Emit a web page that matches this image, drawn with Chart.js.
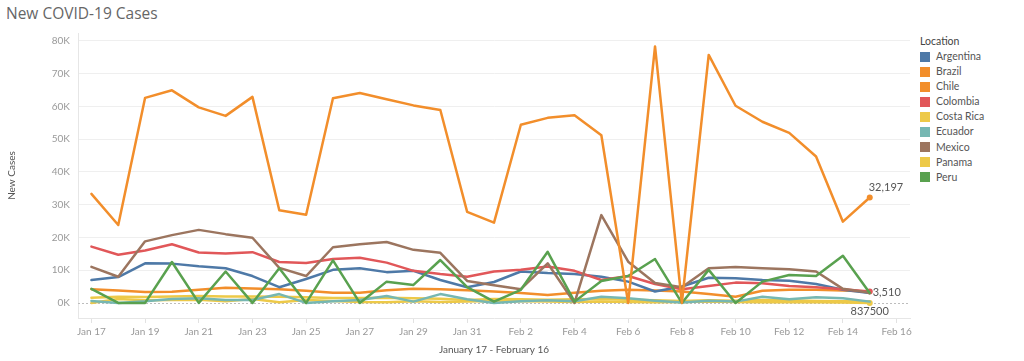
<!DOCTYPE html>
<html><head><meta charset="utf-8">
<script src="https://cdn.jsdelivr.net/npm/chart.js@4.4.1/dist/chart.umd.min.js"></script>
<style>
html,body{margin:0;padding:0;background:#fff;width:1024px;height:361px;overflow:hidden;}
#wrap{position:relative;width:1024px;height:361px;}
#title{position:absolute;left:6px;top:2px;font-family:"Open Sans",sans-serif;font-size:15.5px;color:#666;white-space:nowrap;}
#legend{position:absolute;left:920px;top:34px;font-family:Lato,sans-serif;font-size:10.5px;color:#555;}
#legend .hd{height:15px;line-height:15px;color:#444;}
#legend .it{height:15.1px;line-height:15.1px;display:flex;align-items:center;}
#legend .sw{width:10px;height:10px;margin-right:6px;}
canvas{position:absolute;left:0;top:0;}
</style></head>
<body><div id="wrap">
<div id="title">New COVID-19 Cases</div>
<div id="legend"></div>
<canvas id="c" width="1024" height="361"></canvas>
</div>
<script>
const dateLabels = ['Jan 17','Jan 18','Jan 19','Jan 20','Jan 21','Jan 22','Jan 23','Jan 24','Jan 25','Jan 26','Jan 27','Jan 28','Jan 29','Jan 30','Jan 31','Feb 1','Feb 2','Feb 3','Feb 4','Feb 5','Feb 6','Feb 7','Feb 8','Feb 9','Feb 10','Feb 11','Feb 12','Feb 13','Feb 14','Feb 15','Feb 16'];
const yTickValues = [0,10000,20000,30000,40000,50000,60000,70000,80000];

const locations = ['Argentina','Brazil','Chile','Colombia','Costa Rica','Ecuador','Mexico','Panama','Peru'];
const locationColors = ['#4e79a7','#f28e2b','#f28e2b','#e15759','#edc948','#76b7b2','#9c755f','#edc948','#59a14f'];

const argentina = [7000,7900,12100,12000,11200,10600,8200,4800,7300,10100,10600,9400,9800,7000,4800,6400,9600,9100,8800,8000,6500,3500,5000,7700,7500,7000,6800,5800,4000,3000];
const brazil = [33300,23800,62600,64900,59700,57100,62900,28300,26900,62500,64100,62200,60300,58900,27800,24500,54400,56500,57300,51200,0,78300,0,75700,60200,55300,51900,44700,24800,32197];
const chile = [4200,3800,3300,3400,4000,4600,4400,4200,3700,3100,3100,3900,4300,4200,3900,3500,3000,2400,3100,3700,4000,3800,3500,2700,1900,3700,4000,4000,3800,3500];
const colombia = [17200,14700,16000,17900,15400,15100,15500,12500,12200,13400,13800,12300,9800,8800,8000,9600,10100,11100,9800,7000,8200,5800,4200,5200,6200,6000,5200,4800,4200,3510];
const costaRica = [1600,1900,1800,2000,2100,2000,2000,1900,1700,1500,1500,1600,1400,1300,900,1200,1100,1000,1100,1200,1000,800,600,800,700,900,800,600,500,400];
const ecuador = [600,0,500,1200,1400,900,900,2700,0,500,900,2100,400,2700,1100,0,500,800,500,1900,1400,700,100,700,400,1900,1100,1700,1400,400];
const mexico = [11000,8000,18800,20700,22300,21000,19900,10700,8200,17000,17900,18600,16200,15300,6700,5400,4200,12100,0,26800,12600,6100,4800,10600,11000,10600,10300,9600,4300,3100];
const panama = [0,1200,800,900,1000,500,1200,200,900,600,300,200,500,300,400,600,500,400,300,400,300,200,300,400,300,200,300,200,100,0];
const peru = [4300,0,0,12500,0,9600,0,10600,0,13000,0,6500,5500,13100,4800,400,4000,15600,400,6700,8200,13400,0,10100,0,6500,8500,8200,14400,3000];

const panamaEndLabel = '837500';

// legend
const lg = document.getElementById('legend');
lg.innerHTML = '<div class="hd">Location</div>' + locations.map((n,i)=>
  `<div class="it"><span class="sw" style="background:${locationColors[i]}"></span>${n}</div>`).join('');

function lastDot(arr){ return arr.map((v,i)=> i===arr.length-1 ? 3 : 0); }
function mk(name, data, endLabel){
  const i = locations.indexOf(name);
  return {label:name, data:data, borderColor:locationColors[i], backgroundColor:locationColors[i],
    borderWidth:2.5, tension:0, borderJoinStyle:'round', borderCapStyle:'round',
    pointRadius: endLabel ? lastDot(data) : 0, pointHoverRadius:0,
    pointBorderWidth:0, endLabel:endLabel};
}

const datasets = [
  mk('Brazil', brazil, {text: brazil[brazil.length-1].toLocaleString('en-US'), dx:-1, dy:-10, align:'left'}),
  mk('Peru', peru),
  mk('Mexico', mexico),
  mk('Colombia', colombia, {text: colombia[colombia.length-1].toLocaleString('en-US'), dx:3, dy:1.5, align:'left'}),
  mk('Argentina', argentina),
  mk('Chile', chile),
  mk('Ecuador', ecuador),
  mk('Costa Rica', costaRica),
  mk('Panama', panama, {text: panamaEndLabel, dx:0, dy:9, align:'center'})
];

const endLabels = {
  id:'endLabels',
  afterDatasetsDraw(chart){
    const ctx = chart.ctx;
    chart.data.datasets.forEach((ds,i)=>{
      if(!ds.endLabel) return;
      const meta = chart.getDatasetMeta(i);
      const pt = meta.data[meta.data.length-1];
      ctx.save();
      ctx.font = '11px Lato, sans-serif';
      ctx.fillStyle = '#555';
      ctx.textAlign = ds.endLabel.align;
      ctx.textBaseline = 'middle';
      ctx.fillText(ds.endLabel.text, pt.x + ds.endLabel.dx, pt.y + ds.endLabel.dy);
      ctx.restore();
    });
  }
};
const zeroLine = {
  id:'zeroLine',
  beforeDatasetsDraw(chart){
    const y = chart.scales.y.getPixelForValue(0);
    const a = chart.chartArea, ctx = chart.ctx;
    ctx.save(); ctx.strokeStyle='#bdbdbd'; ctx.lineWidth=1; ctx.setLineDash([2,2]);
    ctx.beginPath(); ctx.moveTo(a.left, Math.round(y)+0.5); ctx.lineTo(a.right, Math.round(y)+0.5); ctx.stroke();
    ctx.restore();
  }
};

new Chart(document.getElementById('c'), {
  type:'line',
  data:{labels:dateLabels, datasets:datasets},
  plugins:[endLabels, zeroLine],
  options:{
    responsive:false, animation:false, devicePixelRatio:1,
    layout:{padding:{top:33,right:114,left:0,bottom:0}},
    plugins:{legend:{display:false}, tooltip:{enabled:false}},
    scales:{
      x:{
        offset:true,
        afterFit(s){ s.height = 43; },
        grid:{display:true, drawOnChartArea:false, drawTicks:true, tickLength:5,
          color:(c)=> (c.index % 2 === 0 ? '#e2e2e2' : 'rgba(0,0,0,0)')},
        border:{display:true, color:'#e6e6e6'},
        ticks:{autoSkip:false, maxRotation:0, minRotation:0, padding:3, color:'#999',
          font:{family:'Lato', size:10},
          callback:(v,i)=> (i % 2 === 0 ? dateLabels[i] : '')},
        title:{display:true, text:'January 17 - February 16', color:'#555',
          font:{family:'Lato', size:10}, padding:{top:0,bottom:5}}
      },
      y:{
        min:-4600, max:82400,
        afterFit(s){ s.width = 78; },
        afterBuildTicks(s){ s.ticks = yTickValues.map(v=>({value:v})); },
        grid:{drawTicks:false, color:(c)=> (c.tick && c.tick.value===0 ? 'rgba(0,0,0,0)' : '#efefef')},
        border:{display:true, color:'#e6e6e6'},
        ticks:{padding:8, color:'#999', font:{family:'Lato', size:10},
          callback:(v)=> (v/1000) + 'K'},
        title:{display:true, text:'New Cases', color:'#555', font:{family:'Lato', size:10}, padding:{top:6,bottom:0}}
      }
    }
  }
});
</script>
</body></html>
